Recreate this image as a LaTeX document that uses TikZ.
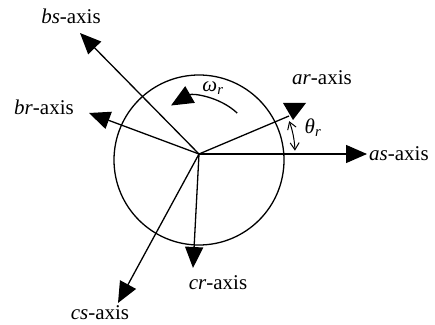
\documentclass[tikz,border=0pt]{standalone}
\usepackage{fontspec}
\setmainfont{Liberation Serif}
\usetikzlibrary{arrows.meta}
\begin{document}
\begin{tikzpicture}[x=1pt,y=1pt,
  axisline/.style={line width=1.3pt,-{Triangle[length=21pt,width=18pt]}},
  lbl/.style={inner sep=0pt,font=\fontsize{21}{24}\selectfont}]
\useasboundingbox (0,0) rectangle (435,324);
\coordinate (O) at (199,170);
\coordinate (C) at (199,164);
\draw[line width=1.3pt] (C) circle[radius=85];
% axis tips
\coordinate (as) at (367,170);
\coordinate (ar) at (289,208);
\coordinate (bs) at (80,291);
\coordinate (br) at (89,211);
\coordinate (cr) at (193,56);
\coordinate (cs) at (118,21);
\draw[axisline] (O) -- (as);
\draw[axisline] (O) -- (bs);
\draw[axisline] (O) -- (br);
\draw[axisline] (O) -- (cr);
\draw[axisline] (O) -- (cs);
\draw[line width=1.3pt] (O) -- (ar);
\coordinate (t1) at (283,221);
\coordinate (t2) at (306,221);
\coordinate (t3) at (293,204);
\fill (t1) -- (t2) -- (t3) -- cycle;
% rotation arrow
\draw[line width=1.3pt,-{Triangle[length=22pt,width=19pt]}] (O) ++(47:56) coordinate (w0) arc[start angle=47,end angle=120,radius=56];
% theta arc
\draw[line width=1pt,{Straight Barb[length=7pt,width=9pt]}-{Straight Barb[length=7pt,width=9pt]}] (O) ++(2:96) coordinate (h0) arc[start angle=2,end angle=20,radius=96];
% labels
\node[lbl] (Lbs) at (71,308) {\textit{bs}-axis};
\node[lbl] (Lbr) at (44,217) {\textit{br}-axis};
\node[lbl] (Lar) at (322,246) {\textit{ar}-axis};
\node[lbl,anchor=west] (Las) at (369,170) {\textit{as}-axis};
\node[lbl] (Lcr) at (218,41) {\textit{cr}-axis};
\node[lbl] (Lcs) at (100,11) {\textit{cs}-axis};
\node[lbl] (Lw) at (213,236) {\textit{ω}\textsubscript{\textit{r}}};
\node[lbl] (Lt) at (313,196) {\textit{θ}\textsubscript{\textit{r}}};
\end{tikzpicture}
\end{document}
